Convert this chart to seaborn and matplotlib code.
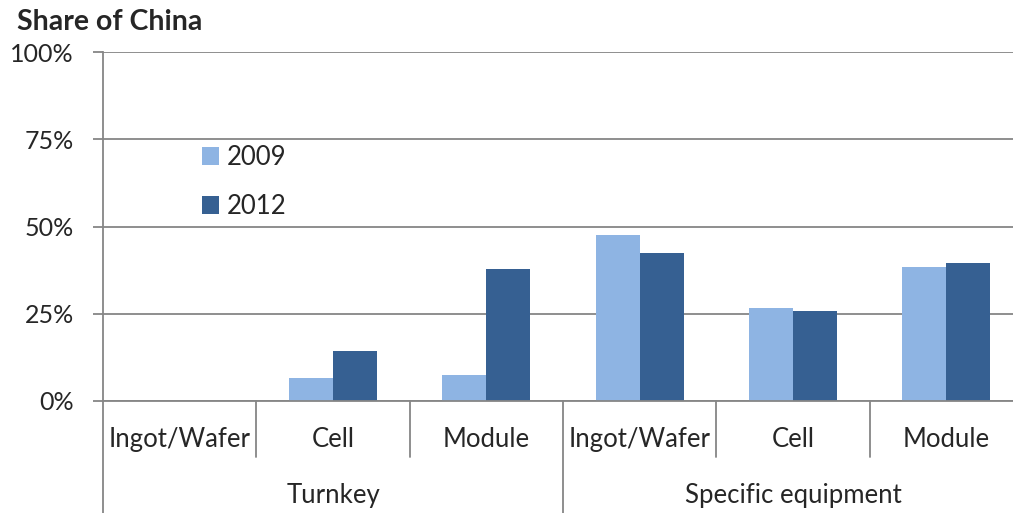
import pandas as pd
import matplotlib
matplotlib.use("Agg")
import matplotlib.pyplot as plt
from matplotlib.patches import Patch
import seaborn as sns

groups = ['Turnkey', 'Specific equipment']
steps = ['Ingot/Wafer', 'Cell', 'Module']
share_2009 = [0.0, 6.6, 7.5, 47.6, 26.7, 38.5]
share_2012 = [0.0, 14.2, 37.8, 42.3, 25.8, 39.5]
years = ['2009', '2012']
colors = ['#8EB4E3', '#366092']

slots = [g + '|' + s for g in groups for s in steps]
df = pd.DataFrame({
    'slot': slots * 2,
    'share': share_2009 + share_2012,
    'year': ['2009'] * 6 + ['2012'] * 6,
})

sns.set_style('white')
plt.rcParams['font.family'] = ['Lato', 'DejaVu Sans']

fig = plt.figure(figsize=(10.13, 5.13), dpi=100)
ax = fig.add_axes([103 / 1013, 112 / 513, 920 / 1013, 349 / 513])

sns.barplot(data=df, x='slot', y='share', hue='year', order=slots, hue_order=years,
            palette=colors, saturation=1, width=0.574, linewidth=0, ax=ax, legend=False)

ax.set_ylim(0, 100)
ax.set_xlim(-0.5, 5.5)
ax.set_yticks([0, 25, 50, 75, 100])
ax.set_yticklabels(['0%', '25%', '50%', '75%', '100%'])
ax.yaxis.grid(True, color='#868686', linewidth=1.3)
ax.set_axisbelow(True)
ax.tick_params(axis='y', length=7, width=1.3, color='#868686', labelsize=18, pad=14, left=True)
ax.set_xticks([])
ax.set_xlabel('')
ax.set_ylabel('')
for s in ['top', 'right']:
    ax.spines[s].set_visible(False)
for s in ['left', 'bottom']:
    ax.spines[s].set_color('#868686')
    ax.spines[s].set_linewidth(1.3)

# category labels and separators
tr = ax.get_xaxis_transform()
for i, slot in enumerate(slots):
    ax.text(i, -0.109, slot.split('|')[1], transform=tr, ha='center', va='center', fontsize=18.5)
for b in [0.5, 1.5, 3.5, 4.5]:
    ax.plot([b, b], [0, -0.16], transform=tr, color='#868686', lw=1.3, clip_on=False)
for b in [-0.5, 2.5]:
    ax.plot([b, b], [0, -0.33], transform=tr, color='#868686', lw=1.3, clip_on=False)
for j, g in enumerate(groups):
    ax.text(1 + 3 * j, -0.272, g, transform=tr, ha='center', va='center', fontsize=18.5)

handles = [Patch(facecolor=c, edgecolor='none') for c in colors]
ax.legend(handles, years, loc='upper left', bbox_to_anchor=(86 / 920, 0.771),
          frameon=False, fontsize=18.5, handlelength=0.68, handleheight=0.68,
          handletextpad=0.3, labelspacing=0.95, borderpad=0)

fig.text(17 / 1013, 1 - 22 / 513, 'Share of China', fontsize=20.5, fontweight='bold',
         ha='left', va='center')

fig.savefig('out.png', dpi=100)
